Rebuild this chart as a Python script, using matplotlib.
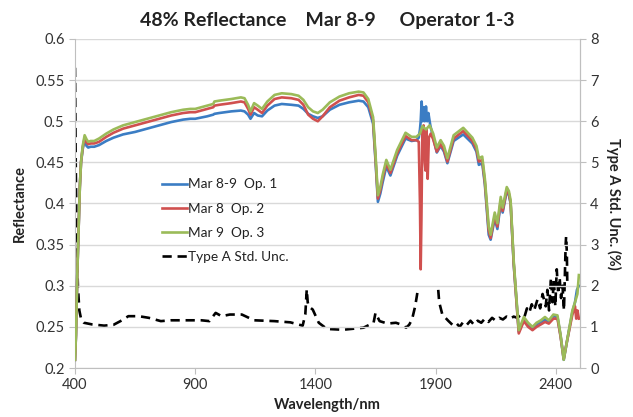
import numpy as np
import matplotlib
matplotlib.use("Agg")
import matplotlib.pyplot as plt

plt.rcParams['font.family'] = ['Lato', 'DejaVu Sans']

# ---------------- data ----------------
wl_op3 = [400, 404, 410, 415, 420, 425, 432, 440, 448, 455, 465, 480, 500, 530, 560, 600, 650, 700,
          750, 800, 850, 880, 900, 950, 975, 980, 1000, 1050, 1090, 1105, 1120, 1130, 1145, 1160,
          1178, 1200, 1230, 1260, 1300, 1330, 1350, 1370, 1390, 1410, 1430, 1460, 1500, 1540, 1580,
          1600, 1620, 1640, 1650, 1660, 1670, 1680, 1695, 1712, 1740, 1775, 1800, 1820, 1835, 1845,
          1860, 1875, 1890, 1905, 1921, 1935, 1949, 1975, 2015, 2053, 2070, 2080, 2094, 2105, 2121,
          2129, 2146, 2157, 2171, 2179, 2196, 2205, 2212, 2225, 2246, 2267, 2285, 2303, 2320, 2338,
          2355, 2371, 2390, 2407, 2420, 2433, 2445, 2469, 2480, 2490, 2496]
refl_op3 = [0.21, 0.24, 0.32, 0.37, 0.42, 0.45, 0.47, 0.483, 0.478, 0.475, 0.476, 0.476, 0.479, 0.485,
            0.490, 0.495, 0.499, 0.503, 0.507, 0.511, 0.514, 0.515, 0.515, 0.519, 0.521, 0.524, 0.525,
            0.527, 0.529, 0.528, 0.520, 0.512, 0.522, 0.519, 0.515, 0.524, 0.532, 0.534, 0.533, 0.531,
            0.526, 0.517, 0.512, 0.510, 0.514, 0.523, 0.530, 0.534, 0.536, 0.535, 0.527, 0.505, 0.460,
            0.410, 0.420, 0.435, 0.453, 0.441, 0.465, 0.486, 0.481, 0.481, 0.485, 0.494, 0.490, 0.495,
            0.485, 0.468, 0.477, 0.470, 0.455, 0.483, 0.492, 0.480, 0.470, 0.455, 0.457, 0.430, 0.372,
            0.362, 0.389, 0.376, 0.408, 0.395, 0.420, 0.415, 0.404, 0.330, 0.246, 0.262, 0.255, 0.250,
            0.255, 0.258, 0.262, 0.258, 0.265, 0.264, 0.240, 0.210, 0.230, 0.270, 0.280, 0.290, 0.313]

wl_op2 = [400, 404, 410, 415, 420, 425, 432, 440, 448, 455, 465, 480, 500, 530, 560, 600, 650, 700,
          750, 800, 850, 880, 900, 950, 975, 980, 1000, 1050, 1090, 1105, 1120, 1130, 1145, 1160,
          1178, 1200, 1230, 1260, 1300, 1330, 1350, 1370, 1390, 1410, 1430, 1460, 1500, 1540, 1580,
          1600, 1620, 1640, 1650, 1660, 1670, 1680, 1695, 1712, 1740, 1775, 1800, 1820, 1830, 1835,
          1838, 1841, 1845, 1850, 1855, 1858, 1862, 1867, 1872, 1880, 1890, 1905, 1921, 1935, 1949,
          1975, 2015, 2053, 2070, 2080, 2094, 2105, 2121, 2129, 2146, 2157, 2171, 2179, 2196, 2205,
          2212, 2225, 2246, 2267, 2285, 2303, 2320, 2338, 2355, 2371, 2390, 2407, 2420, 2433, 2445,
          2469, 2480, 2485, 2490, 2496]
refl_op2 = [0.21, 0.24, 0.32, 0.37, 0.42, 0.45, 0.468, 0.480, 0.474, 0.472, 0.473, 0.473, 0.475, 0.481,
            0.486, 0.491, 0.495, 0.499, 0.503, 0.507, 0.510, 0.511, 0.511, 0.515, 0.517, 0.519, 0.520,
            0.522, 0.524, 0.523, 0.515, 0.508, 0.517, 0.514, 0.510, 0.519, 0.527, 0.529, 0.528, 0.526,
            0.520, 0.508, 0.503, 0.500, 0.506, 0.517, 0.525, 0.529, 0.532, 0.531, 0.523, 0.501, 0.455,
            0.406, 0.416, 0.431, 0.449, 0.437, 0.461, 0.482, 0.477, 0.477, 0.475, 0.400, 0.320, 0.380,
            0.490, 0.495, 0.450, 0.440, 0.490, 0.430, 0.480, 0.485, 0.478, 0.463, 0.472, 0.465, 0.451,
            0.479, 0.488, 0.476, 0.466, 0.451, 0.453, 0.426, 0.367, 0.358, 0.385, 0.372, 0.404, 0.391,
            0.417, 0.412, 0.401, 0.327, 0.242, 0.257, 0.250, 0.246, 0.250, 0.253, 0.256, 0.254, 0.260,
            0.260, 0.238, 0.211, 0.230, 0.265, 0.275, 0.260, 0.270, 0.260]

wl_op1 = [400, 404, 410, 415, 420, 425, 432, 440, 448, 455, 465, 480, 500, 530, 560, 600, 650, 700,
          750, 800, 850, 880, 900, 950, 975, 980, 1000, 1050, 1090, 1105, 1120, 1130, 1145, 1160,
          1178, 1200, 1230, 1260, 1300, 1330, 1350, 1370, 1390, 1410, 1430, 1460, 1500, 1540, 1580,
          1600, 1620, 1640, 1650, 1660, 1670, 1680, 1695, 1712, 1740, 1775, 1800, 1820, 1830, 1835,
          1838, 1842, 1846, 1850, 1855, 1860, 1865, 1870, 1878, 1890, 1905, 1921, 1935, 1949, 1975,
          2015, 2053, 2070, 2080, 2094, 2105, 2121, 2129, 2146, 2157, 2171, 2179, 2196, 2205, 2212,
          2225, 2246, 2267, 2285, 2303, 2320, 2338, 2355, 2371, 2390, 2407, 2420, 2433, 2445, 2469,
          2480, 2488, 2496]
refl_op1 = [0.21, 0.24, 0.32, 0.37, 0.42, 0.45, 0.466, 0.478, 0.470, 0.468, 0.469, 0.469, 0.471, 0.476,
            0.480, 0.484, 0.487, 0.491, 0.495, 0.499, 0.502, 0.503, 0.503, 0.506, 0.508, 0.509, 0.510,
            0.512, 0.513, 0.512, 0.508, 0.503, 0.510, 0.507, 0.506, 0.513, 0.519, 0.521, 0.520, 0.519,
            0.515, 0.509, 0.506, 0.504, 0.506, 0.514, 0.520, 0.523, 0.525, 0.524, 0.517, 0.497, 0.452,
            0.402, 0.412, 0.426, 0.445, 0.434, 0.458, 0.479, 0.476, 0.477, 0.480, 0.490, 0.500, 0.524,
            0.500, 0.517, 0.500, 0.518, 0.500, 0.510, 0.495, 0.480, 0.462, 0.470, 0.463, 0.449, 0.476,
            0.484, 0.473, 0.463, 0.447, 0.449, 0.423, 0.362, 0.356, 0.382, 0.369, 0.401, 0.389, 0.415,
            0.410, 0.400, 0.326, 0.244, 0.259, 0.252, 0.248, 0.253, 0.256, 0.259, 0.256, 0.263, 0.262,
            0.239, 0.210, 0.230, 0.268, 0.280, 0.295, 0.300]

wl_unc = [400, 403, 407, 412, 418, 425, 437, 471, 521, 560, 589, 622, 665, 707, 757, 800, 841, 926,
          959, 985, 1010, 1044, 1094, 1145, 1229, 1296, 1347, 1358, 1364, 1368, 1372, 1389, 1414,
          1448, 1515, 1600, 1642, 1650, 1667, 1700, 1735, 1760, 1777, 1790, 1802, 1815, 1822, 1826,
          1870, 1911, 1915, 1928, 1954, 1970, 1985, 2000, 2015, 2030, 2045, 2060, 2075, 2090, 2105,
          2120, 2135, 2150, 2165, 2180, 2195, 2210, 2225, 2240, 2257, 2270, 2280, 2290, 2300, 2310,
          2324, 2335, 2345, 2358, 2365, 2372, 2380, 2386, 2392, 2398, 2404, 2410, 2416, 2422, 2428,
          2434, 2438, 2441, 2443, 2446, 2448]
unc = [7.3, 5.0, 3.0, 2.0, 1.4, 1.2, 1.1, 1.06, 1.03, 1.05, 1.14, 1.26, 1.26, 1.22, 1.14, 1.16, 1.16,
       1.16, 1.14, 1.34, 1.26, 1.30, 1.30, 1.16, 1.14, 1.11, 1.03, 1.30, 1.91, 1.60, 1.50, 1.42, 1.10,
       0.95, 0.93, 0.98, 1.10, 1.34, 1.14, 1.08, 1.10, 1.05, 0.98, 1.05, 1.18, 1.50, 1.75, 1.90,
       np.nan, 1.90, 1.60, 1.30, 1.14, 1.05, 1.10, 1.00, 1.12, 1.05, 1.15, 1.05, 1.15, 1.10, 1.20,
       1.12, 1.22, 1.15, 1.22, 1.18, 1.25, 1.20, 1.25, 1.22, 1.30, 1.25, 1.45, 1.35, 1.55, 1.40,
       1.67, 1.45, 1.80, 1.50, 1.90, 1.40, 2.20, 1.60, 2.15, 1.50, 2.40, 1.80, 2.20, 1.70, 2.00,
       1.40, 2.30, 3.00, 3.20, 2.80, 2.00]

labels = ['Mar 8-9  Op. 1', 'Mar 8  Op. 2', 'Mar 9  Op. 3', 'Type A Std. Unc.']
x_ticks = [400, 900, 1400, 1900, 2400]

# ---------------- figure ----------------
fig = plt.figure(figsize=(6.33, 4.17), dpi=100)
ax = fig.add_axes([0.1185, 0.1175, 0.7975, 0.789])
ax2 = ax.twinx()

c_blue, c_red, c_green = '#3b7dc4', '#d0504f', '#9bbb59'
l1, = ax.plot(wl_op1, refl_op1, color=c_blue, lw=1.9, zorder=3)
l2, = ax.plot(wl_op2, refl_op2, color=c_red, lw=1.9, zorder=4)
l3, = ax.plot(wl_op3, refl_op3, color=c_green, lw=1.9, zorder=5)
l4, = ax2.plot(wl_unc, unc, color='black', lw=1.9, dashes=(3.5, 2.2))

ax.set_xlim(400, 2500)
ax.set_ylim(0.2, 0.6)
ax.set_yticks(np.arange(0.2, 0.601, 0.05))
ax.set_yticklabels(['0.2', '0.25', '0.3', '0.35', '0.4', '0.45', '0.5', '0.55', '0.6'])
ax.set_xticks(x_ticks)
ax2.set_ylim(0, 8)
ax2.set_yticks(range(0, 9))

ax.grid(axis='y', color='#d9d9d9', lw=1.0)
ax.set_axisbelow(True)
for a in (ax, ax2):
    a.spines['top'].set_visible(False)
    for s in ['left', 'right', 'bottom']:
        a.spines[s].set_color('#bfbfbf')
    a.tick_params(colors='#bfbfbf', labelcolor='#333333', labelsize=10.5, length=4)
ax2.spines['left'].set_visible(False)
ax2.spines['bottom'].set_visible(False)

ax.set_zorder(ax2.get_zorder() + 1)
ax.patch.set_visible(False)

fig.text(0.517, 0.952, '48% Reflectance    Mar 8-9     Operator 1-3', ha='center', va='center',
         fontsize=14, fontweight='bold', color='#222222')
ax.set_xlabel('Wavelength/nm', fontsize=10.5, fontweight='bold', color='#222222', labelpad=4)
ax.set_ylabel('Reflectance', fontsize=10.5, fontweight='bold', color='#222222', labelpad=6)
ax2.set_ylabel('Type A Std. Unc. (%)', fontsize=10.5, fontweight='bold', color='#222222',
               rotation=-90, labelpad=16)

leg = ax.legend([l1, l2, l3, l4], labels, loc='upper left', bbox_to_anchor=(0.256, 0.572),
                bbox_transform=fig.transFigure, frameon=False, fontsize=9.8, handlelength=1.85,
                handletextpad=0.05, labelspacing=0.9, borderpad=0, borderaxespad=0)
for t in leg.get_texts():
    t.set_color('#222222')

fig.savefig('out.png', dpi=100)
